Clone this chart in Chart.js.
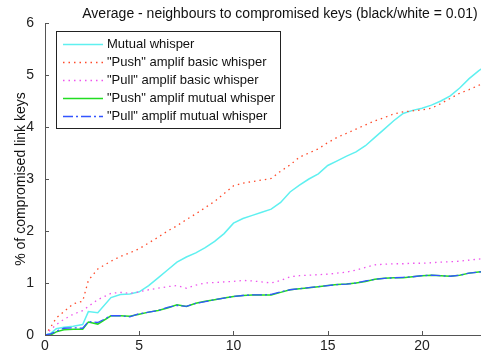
<!DOCTYPE html>
<html>
<head>
<meta charset="utf-8">
<script src="https://cdn.jsdelivr.net/npm/chart.js@4/dist/chart.umd.min.js"></script>
<style>
    body { margin: 0; background: #fff; }
    #wrap { width: 481px; height: 350px; }
</style>
</head>
<body>
<div id="wrap"><canvas id="chart" width="481" height="350"></canvas></div>
<script>
// Data (x = neighbours, y = % of compromised link keys)
const xs = [0,0.3,0.6,1,1.5,2,2.3,2.8,3.5,4,4.5,5,5.5,6,6.5,7,7.5,8,8.5,9,9.5,10,10.5,11,11.5,12,12.5,13,13.5,14,14.5,15,15.5,16,16.5,17,17.5,18,18.5,19,19.5,20,20.5,21,21.5,22,22.5,23,23.5];
const mutualWhisper = [0,0.03,0.12,0.15,0.17,0.2,0.45,0.43,0.72,0.78,0.79,0.83,0.95,1.1,1.25,1.4,1.5,1.58,1.68,1.8,1.95,2.15,2.24,2.3,2.36,2.42,2.55,2.75,2.88,3.0,3.1,3.26,3.35,3.44,3.52,3.64,3.8,3.96,4.12,4.26,4.32,4.36,4.42,4.5,4.6,4.75,4.93,5.08,5.2];
const pushBasic = [0,0.15,0.33,0.45,0.6,0.65,1.05,1.27,1.42,1.51,1.58,1.66,1.77,1.88,2.0,2.1,2.22,2.33,2.45,2.57,2.72,2.87,2.92,2.95,2.98,3.01,3.15,3.27,3.42,3.5,3.58,3.7,3.8,3.88,3.96,4.04,4.12,4.18,4.25,4.29,4.31,4.33,4.36,4.45,4.55,4.65,4.72,4.8,4.88];
const pullBasic = [0,0.1,0.2,0.3,0.4,0.47,0.55,0.68,0.8,0.82,0.8,0.83,0.87,0.9,0.93,0.95,0.9,0.96,1.0,1.01,1.02,1.03,1.05,1.04,1.02,1.0,1.05,1.12,1.14,1.15,1.16,1.17,1.19,1.21,1.25,1.3,1.35,1.36,1.37,1.37,1.38,1.38,1.39,1.4,1.41,1.42,1.44,1.46,1.48];
const pushMutual = [0,0,0.06,0.1,0.11,0.11,0.25,0.21,0.37,0.37,0.36,0.4,0.44,0.47,0.52,0.58,0.55,0.61,0.65,0.68,0.71,0.74,0.76,0.77,0.77,0.77,0.82,0.87,0.89,0.91,0.93,0.95,0.97,0.98,1.0,1.03,1.07,1.09,1.1,1.1,1.12,1.14,1.15,1.14,1.13,1.15,1.19,1.21,1.23];
const pullMutual = [0,0.02,0.07,0.13,0.14,0.13,0.26,0.24,0.37,0.37,0.35,0.41,0.44,0.47,0.53,0.57,0.55,0.61,0.64,0.68,0.71,0.74,0.76,0.77,0.77,0.78,0.83,0.87,0.89,0.91,0.93,0.95,0.97,0.98,1.0,1.04,1.07,1.09,1.1,1.11,1.12,1.14,1.15,1.14,1.13,1.15,1.19,1.21,1.23];
const seriesNames = ["Mutual whisper", "\"Push\" amplif basic whisper", "\"Pull\" amplif basic whisper", "\"Push\" amplif mutual whisper", "\"Pull\" amplif mutual whisper"];
const yTicks = [0,1,2,3,4,5,6];
const xTicks = [0,5,10,15,20];
const titleText = "Average - neighbours to compromised keys (black/white = 0.01)";
const yLabel = "% of compromised link keys";

const FONT = "'Liberation Sans', Arial, sans-serif";
const styles = [
    { color: "#5ff0f0", dash: [], width: 1.5 },
    { color: "#ff4a2a", dash: [1.5, 4], width: 1.3 },
    { color: "#ee55ee", dash: [1.5, 4], width: 1.3 },
    { color: "#22dd22", dash: [], width: 1.5 },
    { color: "#3355ff", dash: [10, 3, 2, 3], width: 1.3 }
];

const allSeries = [mutualWhisper, pushBasic, pullBasic, pushMutual, pullMutual];
const datasets = allSeries.map((vals, i) => ({
    label: seriesNames[i],
    data: xs.map((x, j) => ({ x, y: vals[j] })),
    borderColor: styles[i].color,
    borderDash: styles[i].dash,
    borderWidth: styles[i].width,
    pointRadius: 0,
    tension: 0,
    order: allSeries.length - i  // later series on top, like the original
}));

// Title, inward ticks and boxed legend
const decor = {
    id: "decor",
    afterDraw(chart) {
        const ctx = chart.ctx;
        const area = chart.chartArea;
        const sx = chart.scales.x, sy = chart.scales.y;
        ctx.save();

        // inward ticks
        ctx.strokeStyle = "#555";
        ctx.lineWidth = 1;
        ctx.beginPath();
        yTicks.forEach(v => {
            const py = Math.round(sy.getPixelForValue(v)) + 0.5;
            ctx.moveTo(area.left, py); ctx.lineTo(area.left + 4, py);
        });
        xTicks.forEach(v => {
            const px = Math.round(sx.getPixelForValue(v)) + 0.5;
            ctx.moveTo(px, area.bottom); ctx.lineTo(px, area.bottom - 4);
        });
        ctx.stroke();

        // title
        ctx.fillStyle = "#111";
        ctx.font = "14px " + FONT;
        ctx.textAlign = "center";
        ctx.textBaseline = "middle";
        ctx.fillText(titleText, 280, 14);

        // legend
        const lx = 56.5, ly = 31.5, lw = 224, lh = 97;
        ctx.fillStyle = "#fff";
        ctx.fillRect(lx, ly, lw, lh);
        ctx.strokeStyle = "#222";
        ctx.strokeRect(lx, ly, lw, lh);
        ctx.font = "13px " + FONT;
        ctx.textAlign = "left";
        seriesNames.forEach((name, i) => {
            const yy = Math.round(44 + i * 18) + 0.5;
            ctx.strokeStyle = styles[i].color;
            ctx.lineWidth = styles[i].width;
            ctx.setLineDash(styles[i].dash);
            ctx.beginPath();
            ctx.moveTo(63, yy); ctx.lineTo(103, yy);
            ctx.stroke();
            ctx.setLineDash([]);
            ctx.fillStyle = "#111";
            ctx.fillText(name, 107, yy);
        });
        ctx.restore();
    }
};

new Chart(document.getElementById("chart"), {
    type: "line",
    data: { datasets },
    options: {
        responsive: false,
        animation: false,
        devicePixelRatio: 1,
        layout: { padding: { top: 23, right: 0, left: 0, bottom: 0 } },
        plugins: { legend: { display: false }, title: { display: false }, tooltip: { enabled: false } },
        scales: {
            x: {
                type: "linear",
                min: 0,
                max: 23.13,
                afterBuildTicks: s => { s.ticks = xTicks.map(v => ({ value: v })); },
                afterFit: s => { s.height = 15; },
                grid: { display: false },
                border: { color: "#555" },
                ticks: { color: "#222", padding: -5, font: { family: FONT, size: 14 } }
            },
            y: {
                min: 0,
                max: 6,
                afterBuildTicks: s => { s.ticks = yTicks.map(v => ({ value: v })); },
                afterFit: s => { s.width = 45; },
                grid: { display: false },
                border: { color: "#555" },
                ticks: { color: "#222", padding: 3, font: { family: FONT, size: 14 } },
                title: { display: true, text: yLabel, color: "#111", padding: { top: 13, bottom: 0 }, font: { family: FONT, size: 14 } }
            }
        }
    },
    plugins: [decor]
});
</script>
</body>
</html>
